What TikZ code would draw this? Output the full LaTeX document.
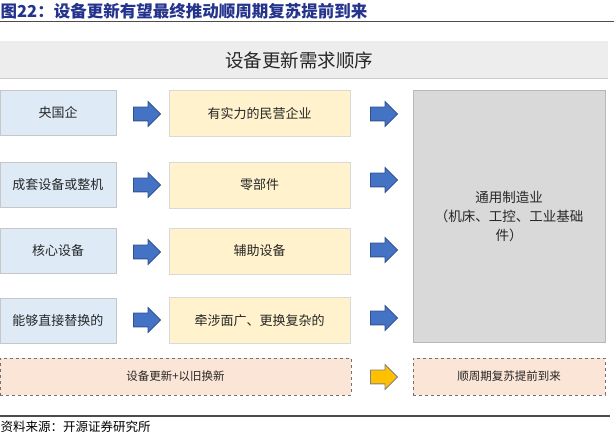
\documentclass[tikz,border=0pt]{standalone}
\usepackage{fontspec}
\newfontfamily\cjk{Noto Sans CJK SC}
\usetikzlibrary{shapes.arrows}
\definecolor{titleblue}{HTML}{24338C}
\definecolor{lblue}{HTML}{DEEBF7}
\definecolor{lyellow}{HTML}{FFF2CC}
\definecolor{lgray}{HTML}{D9D9D9}
\definecolor{lpeach}{HTML}{FBE5D6}
\definecolor{arrblue}{HTML}{4472C4}
\definecolor{arrborder}{HTML}{2F528F}
\definecolor{arryellow}{HTML}{FFC000}
\definecolor{bandgray}{HTML}{EDEDED}
\definecolor{txt}{HTML}{262626}
\tikzset{
  lbox/.style={draw=black!22, fill=lblue, minimum width=116pt, minimum height=45pt, inner sep=0pt, text=txt, font=\cjk\fontsize{13}{15}\selectfont},
  mbox/.style={draw=black!15, fill=lyellow, minimum width=181pt, minimum height=46pt, inner sep=0pt, text=txt, font=\cjk\fontsize{13}{15}\selectfont},
  gbox/.style={draw=black!28, fill=lgray, minimum width=192pt, minimum height=252pt, inner sep=0pt, text=txt, align=center, font=\cjk\fontsize{13.5}{19}\selectfont},
  pbox/.style={draw=black!55, dashed, fill=lpeach, minimum height=37pt, inner sep=0pt, text=txt, font=\cjk\fontsize{11.5}{14}\selectfont},
  barrow/.style={single arrow, draw=arrborder, fill=arrblue, line width=0.8pt, minimum width=0pt, minimum height=27pt, single arrow head extend=5.5pt, single arrow head indent=0pt, inner xsep=0pt, inner ysep=6.5pt, shape border rotate=0},
  yarrow/.style={barrow, fill=arryellow, draw=black!50}
}
\begin{document}
\begin{tikzpicture}[x=1pt,y=-1pt]
\useasboundingbox (0,0) rectangle (614,435);
% title
\node[anchor=west, inner sep=0pt, text=titleblue, font=\cjk\bfseries\fontsize{16.5}{18}\selectfont] (title) at (0.5,11) {图22：设备更新有望最终推动顺周期复苏提前到来};
\draw[black!70, line width=1.2pt] (0,21.5) coordinate (tl1) -- (614,21.5) coordinate (tl2);
% header band
\node[fill=bandgray, minimum width=608pt, minimum height=37pt, inner sep=0pt, anchor=north west] (band) at (0,41) {};
\draw[black!20, line width=0.8pt] (band.south west) -- (band.south east);
\node[text=txt, font=\cjk\fontsize{18.5}{20}\selectfont] (head) at (299,60) {设备更新需求顺序};
% left boxes
\node[lbox] (l1) at (58,113) {央国企};
\node[lbox] (l2) at (58,184.5) {成套设备或整机};
\node[lbox] (l3) at (58,251) {核心设备};
\node[lbox] (l4) at (58,320.5) {能够直接替换的};
% middle boxes
\node[mbox] (m1) at (259.5,113.5) {有实力的民营企业};
\node[mbox] (m2) at (259.5,185) {零部件};
\node[mbox] (m3) at (259.5,251) {辅助设备};
\node[mbox] (m4) at (259.5,320.5) {牵涉面广、更换复杂的};
% right gray box
\node[gbox] (g) at (509,216) {通用制造业\\（机床、工控、工业基础\\件）};
% arrows
\node[barrow] (a1) at (143.5,114) {};
\node[barrow] (a2) at (143.5,185) {};
\node[barrow] (a3) at (143.5,252) {};
\node[barrow] (a4) at (143.5,320) {};
\node[barrow] (b1) at (380.5,114) {};
\node[barrow] (b2) at (380.5,180) {};
\node[barrow] (b3) at (380.5,250) {};
\node[barrow] (b4) at (380.5,318) {};
% bottom dashed boxes
\node[pbox, minimum width=351pt] (p1) at (175.5,376.5) {设备更新+以旧换新};
\node[pbox, minimum width=192pt] (p2) at (509,376.5) {顺周期复苏提前到来};
\node[yarrow] (ya) at (380.5,377) {};
% source
\draw[black!70, line width=1.2pt] (0,416) coordinate (sl1) -- (610,416) coordinate (sl2);
\node[anchor=west, inner sep=0pt, text=black, font=\cjk\fontsize{12.5}{14}\selectfont] (src) at (0.5,426.5) {资料来源：开源证券研究所};
\end{tikzpicture}
\end{document}
